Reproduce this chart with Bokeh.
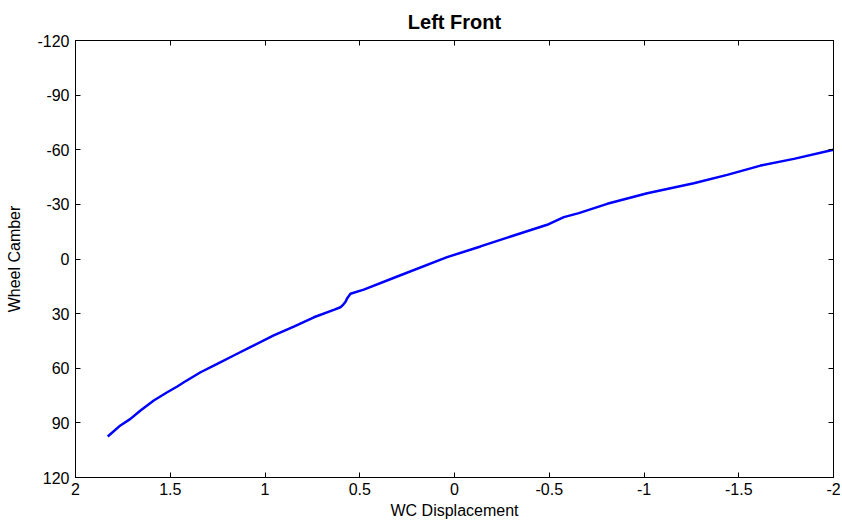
from bokeh.plotting import figure
from bokeh.models import Range1d, LinearAxis, FixedTicker, CustomJSTickFormatter
from bokeh.embed import file_html
from bokeh.resources import INLINE

# Wheel-centre displacement vs. wheel camber, left front corner
displacement = [1.830, 1.763, 1.710, 1.657, 1.587, 1.516, 1.463, 1.428, 1.340,
                1.252, 1.165, 1.059, 0.954, 0.848, 0.742, 0.637, 0.602,
                0.591, 0.575, 0.566, 0.549, 0.479, 0.302, 0.039, -0.137, -0.313,
                -0.489, -0.520, -0.577, -0.656, -0.806, -1.017, -1.263, -1.439,
                -1.615, -1.791, -2.000]
camber = [97.5, 91.4, 87.8, 83.2, 77.7, 73.2, 70.0, 67.7, 62.2,
          57.6, 53.0, 47.5, 42.0, 37.1, 32.0, 27.9, 26.5,
          25.5, 23.5, 21.5, 19.1, 16.8, 9.6, -1.0, -6.9, -12.9,
          -18.8, -20.3, -23.0, -25.2, -30.3, -36.1, -41.6, -46.2,
          -51.3, -55.0, -60.0]

x_ticks = [2, 1.5, 1, 0.5, 0, -0.5, -1, -1.5, -2]
y_ticks = [-120, -90, -60, -30, 0, 30, 60, 90, 120]

FONT = "Liberation Sans"

p = figure(width=842, height=523, output_backend="svg", toolbar_location=None,
           x_range=Range1d(2, -2), y_range=Range1d(120, -120),
           min_border_left=75, min_border_right=9, min_border_top=40,
           min_border_bottom=46, title="Left Front")

p.title.align = "center"
p.title.vertical_align = "top"
p.title.text_font = FONT
p.title.text_font_size = "20px"
p.title.text_font_style = "bold"
p.title.text_color = "black"
p.title.standoff = 12

p.outline_line_color = "black"
p.outline_line_width = 1
p.xgrid.visible = False
p.ygrid.visible = False

fmt = CustomJSTickFormatter(code="return tick.toString();")


def style_axis(ax, ticks, labels=True):
    ax.ticker = FixedTicker(ticks=ticks)
    ax.formatter = fmt
    ax.major_tick_in = 5
    ax.major_tick_out = 0
    ax.minor_tick_in = 0
    ax.minor_tick_out = 0
    ax.axis_line_color = "black"
    ax.major_tick_line_color = "black"
    ax.major_label_text_font = FONT
    ax.axis_label_text_font = FONT
    ax.axis_label_text_font_style = "normal"
    ax.axis_label_text_color = "black"
    ax.axis_label_text_font_size = "16px"
    if labels:
        ax.major_label_text_font_size = "16px"
        ax.major_label_text_color = "black"
    else:
        # tick marks only on the opposite sides of the box
        ax.major_label_text_font_size = "1px"
        ax.major_label_text_color = None
        ax.major_label_standoff = 0


style_axis(p.xaxis[0], x_ticks)
p.xaxis[0].axis_label = "WC Displacement"
p.xaxis[0].major_label_standoff = 5
p.xaxis[0].axis_label_standoff = 4

style_axis(p.yaxis[0], y_ticks)
p.yaxis[0].axis_label = "Wheel Camber"
p.yaxis[0].major_label_standoff = 6
p.yaxis[0].axis_label_standoff = 11

top_axis = LinearAxis()
style_axis(top_axis, x_ticks, labels=False)
p.add_layout(top_axis, "above")

right_axis = LinearAxis()
style_axis(right_axis, y_ticks, labels=False)
p.add_layout(right_axis, "right")

p.line(displacement, camber, line_color="#0000ff", line_width=2.5)

open("out.html", "w").write(file_html(p, INLINE))
